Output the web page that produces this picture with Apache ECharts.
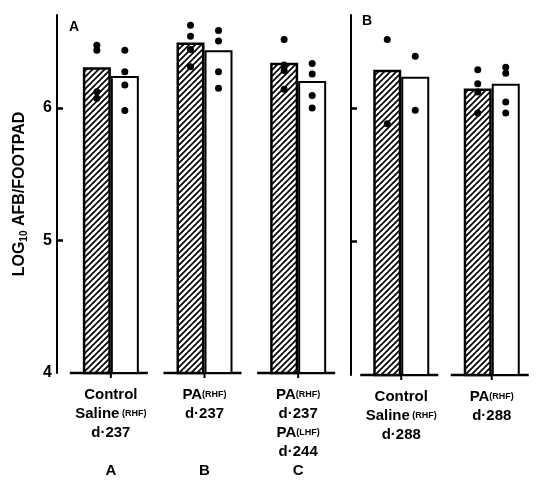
<!DOCTYPE html>
<html><head><meta charset="utf-8">
<script src="https://cdn.jsdelivr.net/npm/echarts@6/dist/echarts.min.js"></script>
<style>html,body{margin:0;padding:0;background:#fff}#c{width:537px;height:480px}</style>
</head><body><div id="c"></div>
<script>
// ---- data ----
const labelsA = ['Control\nSaline{s| (RHF)}\nd·237', 'PA{s|(RHF)}\nd·237', 'PA{s|(RHF)}\nd·237\nPA{s|(LHF)}\nd·244'];
const lettersA = ['A', 'B', 'C'];
const labelsB = ['Control\nSaline{s| (RHF)}\nd·288', 'PA{s|(RHF)}\nd·288'];
const hatchedA = [6.305, 6.492, 6.339];
const openA = [6.24, 6.434, 6.202];
const hatchedB = [6.29, 6.148];
const openB = [6.237, 6.185];
const hatchedDotsA = [[6.472, 6.434, 6.122, 6.073], [6.622, 6.539, 6.440, 6.309], [6.515, 6.322, 6.281, 6.140]];
const openDotsA = [[6.434, 6.272, 6.172, 5.980], [6.584, 6.504, 6.272, 6.148], [6.335, 6.255, 6.092, 5.998]];
const hatchedDotsB = [[6.517, 5.885], [6.29, 6.185, 6.122, 5.965]];
const openDotsB = [[6.39, 5.985], [6.309, 6.264, 6.047, 5.965]];
const yTickLabels = [4, 5, 6];
const yTickMarks = [5, 6];
const yName = 'LOG{sub|10} AFB/FOOTPAD';
const panelNames = ['A', 'B'];

// ---- helpers ----
const FONT = '"Liberation Sans", Arial, sans-serif';
function hatch() {
  const c = document.createElement('canvas');
  c.width = 6; c.height = 6;
  const g = c.getContext('2d');
  g.fillStyle = '#fff'; g.fillRect(0, 0, 6, 6);
  g.strokeStyle = '#000'; g.lineWidth = 1.7;
  g.beginPath();
  g.moveTo(-1, 7); g.lineTo(7, -1);
  g.moveTo(-1, 1); g.lineTo(1, -1);
  g.moveTo(5, 7); g.lineTo(7, 5);
  g.stroke();
  return { image: c, repeat: 'repeat' };
}
function cats(labels, letters) {
  return labels.map((l, i) => {
    if (!letters) return l;
    const n = l.split('\n').length;
    let s = l;
    for (let k = n; k < 4; k++) s += '\n ';
    return s + '\n{g|' + letters[i] + '}';
  });
}
function dots(groups) {
  const out = [];
  groups.forEach((vals, i) => vals.forEach(v => out.push([i, v])));
  return out;
}
const axisLabelX = {
  interval: 0, margin: 12, fontSize: 15, fontWeight: 'bold', lineHeight: 19, color: '#000', fontFamily: FONT,
  rich: {
    s: { fontSize: 9, fontWeight: 'bold', lineHeight: 19, color: '#000', fontFamily: FONT },
    g: { fontSize: 15, fontWeight: 'bold', lineHeight: 19, color: '#000', fontFamily: FONT }
  }
};
function yAxis(gi, offset, showLabels) {
  const ax = {
    gridIndex: gi, type: 'value', position: 'left', min: 4, max: 6.7, interval: 1, offset: offset,
    axisLine: { show: true, lineStyle: { color: '#000', width: 2 } },
    axisTick: { show: true, inside: true, length: 6, customValues: yTickMarks, lineStyle: { color: '#000', width: 2.5 } },
    axisLabel: { show: showLabels, customValues: yTickLabels, fontSize: 16, fontWeight: 'bold', color: '#000', margin: 5, fontFamily: FONT },
    splitLine: { show: false }
  };
  if (showLabels) {
    Object.assign(ax, {
      name: yName, nameLocation: 'middle', nameGap: 28, nameRotate: 90,
      nameTextStyle: {
        fontSize: 16, fontWeight: 'bold', color: '#000', fontFamily: FONT, lineHeight: 18,
        rich: { sub: { fontSize: 10, fontWeight: 'bold', color: '#000', fontFamily: FONT, verticalAlign: 'bottom', lineHeight: 18 } }
      }
    });
  }
  return ax;
}
function baseline(xi, n) {
  return {
    type: 'custom', xAxisIndex: xi, yAxisIndex: xi, clip: false, z: 1,
    data: Array.from({ length: n }, (_, i) => [i, 4]),
    encode: { x: 0, y: 1 },
    renderItem: (params, api) => {
      const p = api.coord([api.value(0), api.value(1)]);
      return {
        type: 'group', children: [
          { type: 'line', shape: { x1: p[0] - 41, y1: p[1], x2: p[0] + 37, y2: p[1] }, style: { stroke: '#000', lineWidth: 2.5 } },
          { type: 'line', shape: { x1: p[0], y1: p[1], x2: p[0], y2: p[1] + 5 }, style: { stroke: '#000', lineWidth: 2 } }
        ]
      };
    }
  };
}
const hatchFill = hatch();
function bars(xi, hv, ov) {
  return [
    { type: 'bar', xAxisIndex: xi, yAxisIndex: xi, data: hv, barWidth: 28, barGap: '0%', z: 2,
      itemStyle: { color: hatchFill, borderColor: '#000', borderWidth: 2.5 } },
    { type: 'bar', xAxisIndex: xi, yAxisIndex: xi, data: ov, barWidth: 28, barGap: '0%', z: 2,
      itemStyle: { color: '#fff', borderColor: '#000', borderWidth: 2 } }
  ];
}
function scat(xi, d, off) {
  return { type: 'scatter', xAxisIndex: xi, yAxisIndex: xi, data: dots(d), symbolSize: 7, symbolOffset: [off, 0], z: 5,
    itemStyle: { color: '#000', opacity: 1 }, silent: true };
}

const chart = echarts.init(document.getElementById('c'), null, { renderer: 'canvas' });
chart.setOption({
  animation: false,
  backgroundColor: '#fff',
  title: [
    { text: panelNames[0], left: 64, top: 15, textStyle: { fontSize: 14, fontWeight: 'bold', color: '#000', fontFamily: FONT } },
    { text: panelNames[1], left: 357, top: 9, textStyle: { fontSize: 14, fontWeight: 'bold', color: '#000', fontFamily: FONT } }
  ],
  grid: [
    { left: 64, top: 15, width: 281, height: 360 },
    { left: 356, top: 15, width: 191, height: 360 }
  ],
  xAxis: [
    { gridIndex: 0, type: 'category', data: cats(labelsA, lettersA), axisLine: { show: false }, axisTick: { show: false }, axisLabel: axisLabelX },
    { gridIndex: 1, type: 'category', data: cats(labelsB, null), axisLine: { show: false }, axisTick: { show: false }, axisLabel: axisLabelX }
  ],
  yAxis: [yAxis(0, 7, true), yAxis(1, 5, false)],
  series: [
    baseline(0, labelsA.length), baseline(1, labelsB.length),
    ...bars(0, hatchedA, openA), ...bars(1, hatchedB, openB),
    scat(0, hatchedDotsA, -14), scat(0, openDotsA, 14),
    scat(1, hatchedDotsB, -14), scat(1, openDotsB, 14)
  ]
});
</script></body></html>
